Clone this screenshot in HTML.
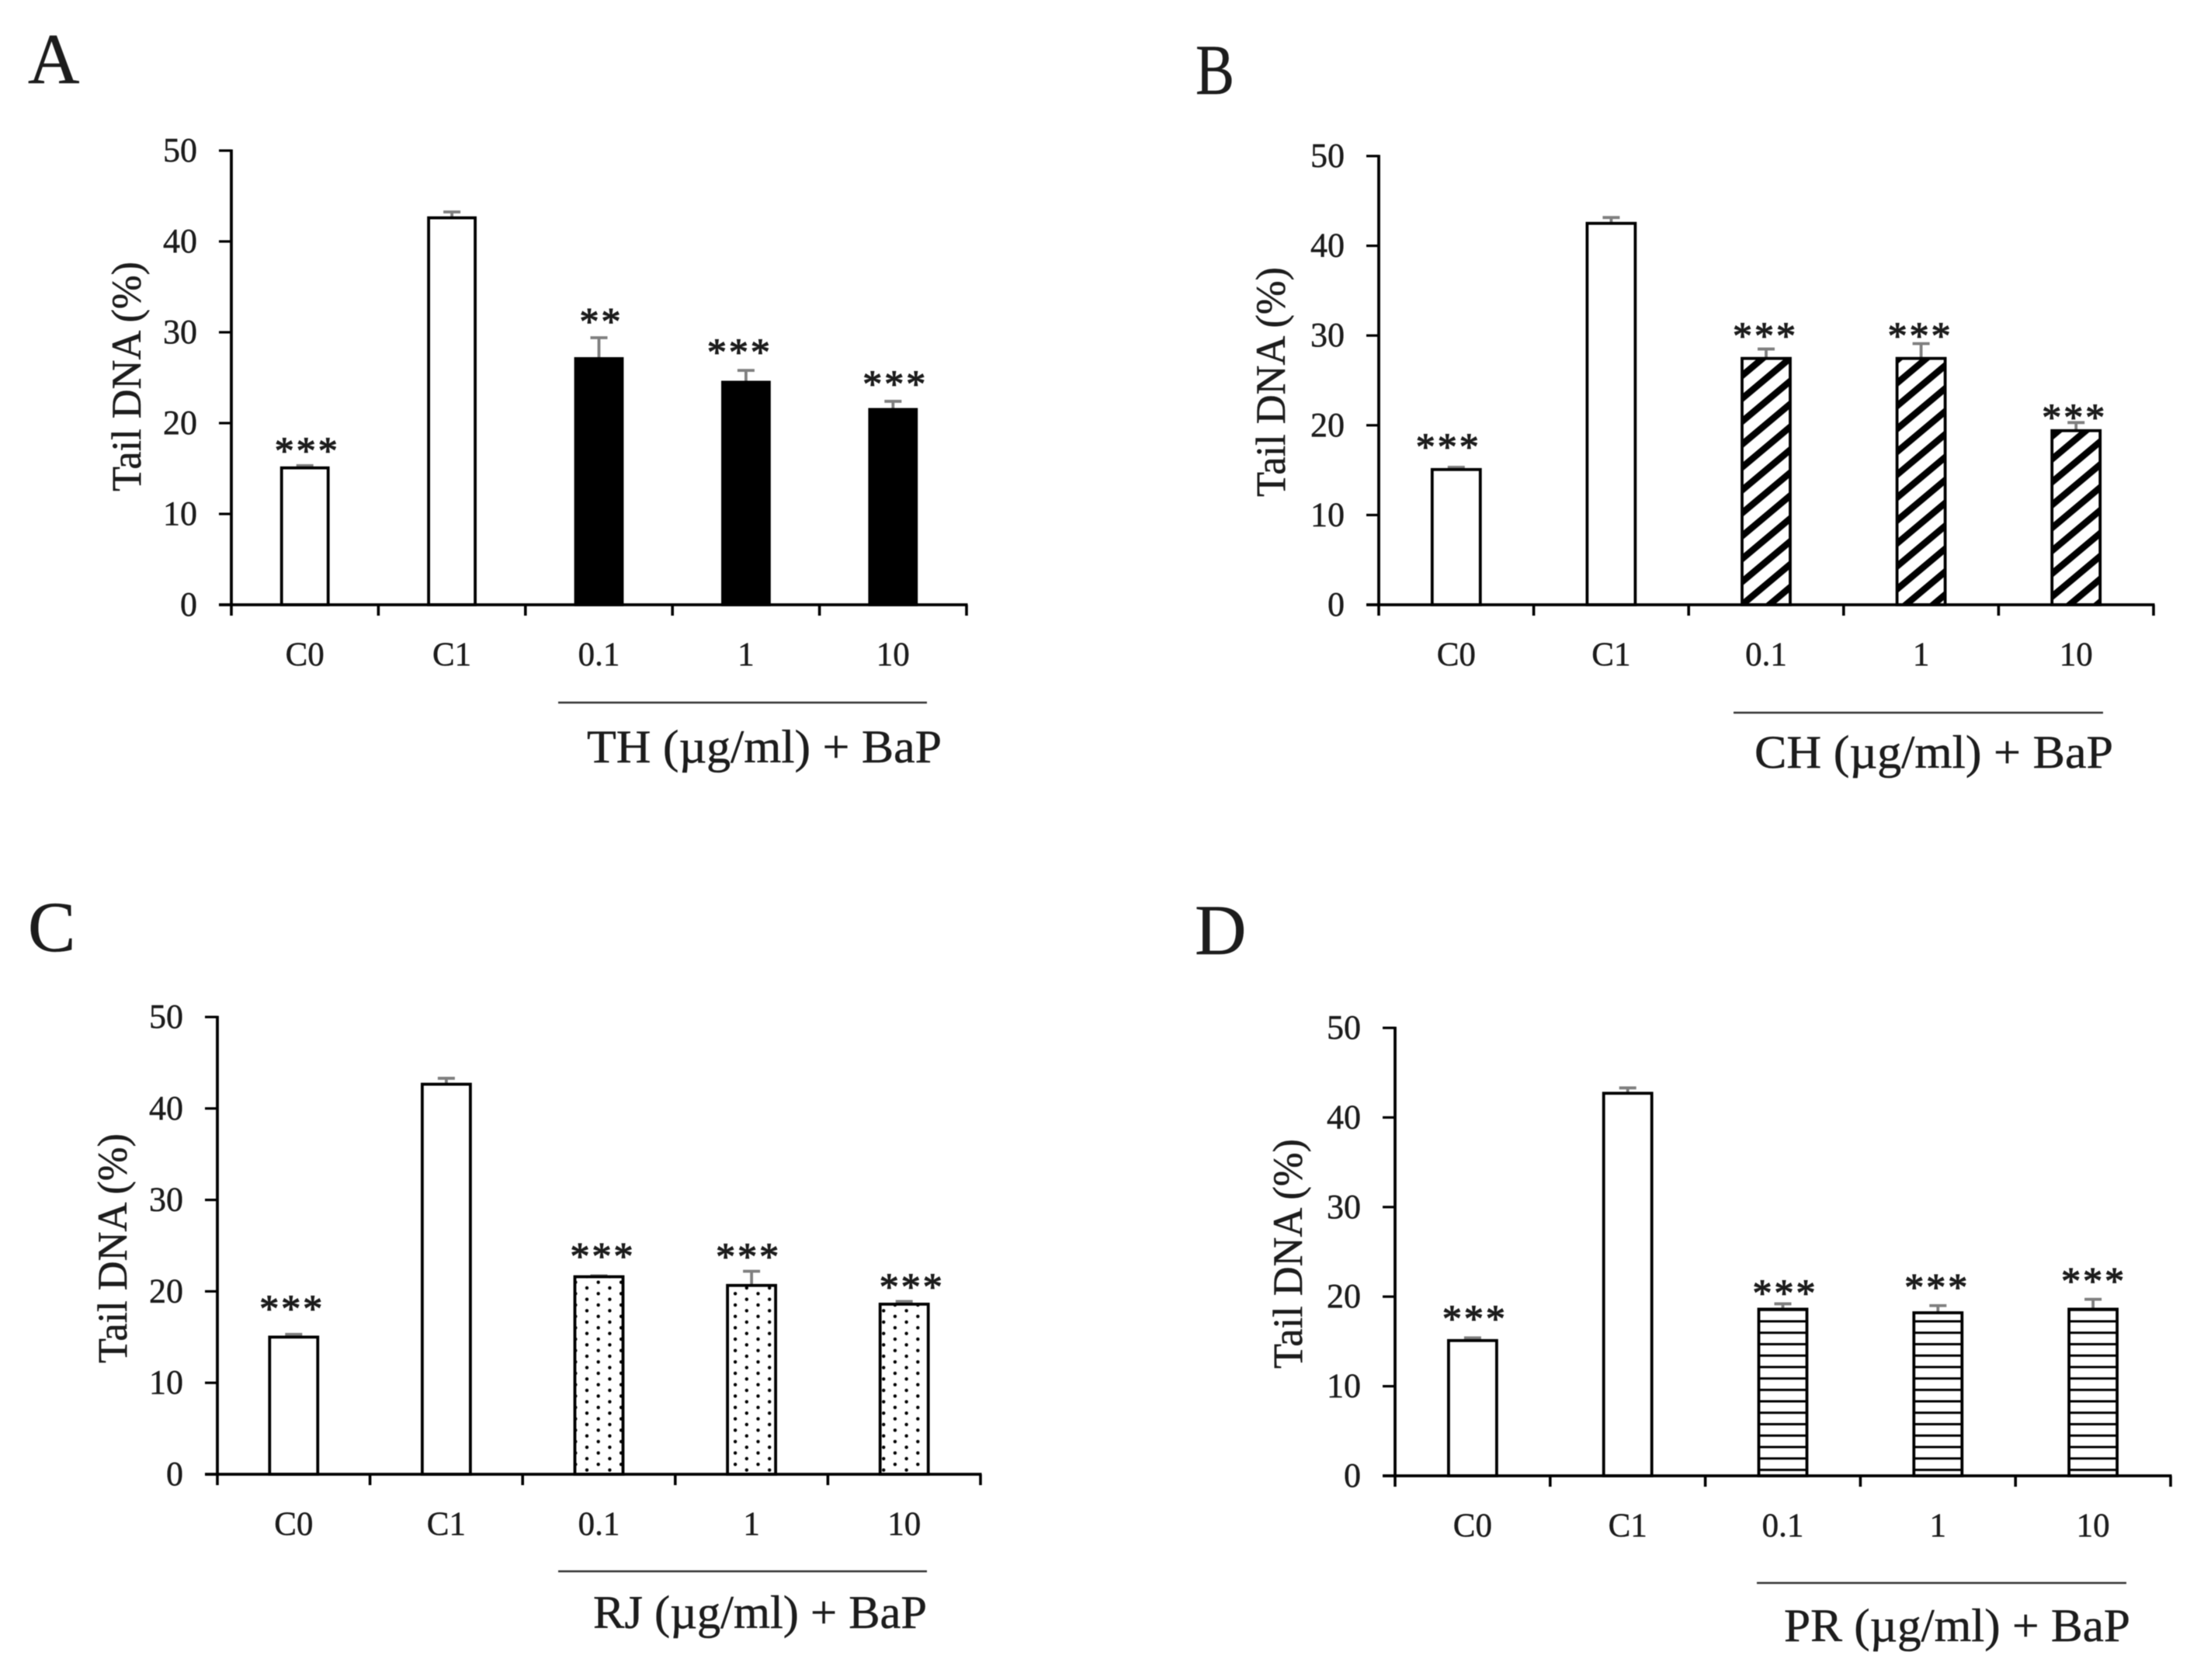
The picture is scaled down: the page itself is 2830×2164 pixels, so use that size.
<!DOCTYPE html>
<html lang="en">
<head>
<meta charset="utf-8">
<title>Tail DNA bar charts</title>
<style>
html,body{margin:0;padding:0;background:#fff;width:2830px;height:2164px;overflow:hidden}
svg{display:block;filter:blur(0.6px)}
text{font-family:"Liberation Serif",serif;fill:#1c1c1c;stroke:#1c1c1c;stroke-width:0.5px}
</style>
</head>
<body>
<svg id="figure" xmlns="http://www.w3.org/2000/svg" width="2830" height="2164" viewBox="0 0 2830 2164">
<defs>
<pattern id="hatch-diagonal" patternUnits="userSpaceOnUse" width="10" height="22.6" patternTransform="translate(2261.7 434) rotate(-40)">
<rect width="10" height="22.6" fill="#fff"/>
<rect width="10" height="8.5" y="0" fill="#000"/>
</pattern>
<pattern id="hatch-dots" patternUnits="userSpaceOnUse" x="748.65" y="1655.34" width="29.4" height="14.66">
<rect width="29.4" height="14.66" fill="#fff"/>
<circle cx="7.35" cy="3.66" r="2.2" fill="#000"/>
<circle cx="22.05" cy="11" r="2.2" fill="#000"/>
</pattern>
<pattern id="hatch-lines" patternUnits="userSpaceOnUse" x="0" y="1700.5" width="10" height="14.72">
<rect width="10" height="14.72" fill="#fff"/>
<rect width="10" height="3" y="0" fill="#000"/>
</pattern>
</defs>
</svg>
<script>
// ---- chart data (percent Tail DNA) ----
const categories = ["C0", "C1", "0.1", "1", "10"];
const yTickValues = [0, 10, 20, 30, 40, 50];

const valuesA = [15.07, 42.6, 27.1, 24.5, 21.5];
const errorsA = [0.25, 0.65, 2.3, 1.3, 0.9];
const starsA = ["***", "", "**", "***", "***"];
const starGapsA = [2.25, 0, 2.4, 2.6, 2.5];

const valuesB = [15.07, 42.5, 27.45, 27.45, 19.4];
const errorsB = [0.25, 0.65, 1.05, 1.65, 0.9];
const starsB = ["***", "", "***", "***", "***"];
const starGapsB = [2.9, 0, 2.1, 1.5, 1.2];

const valuesC = [15.0, 42.65, 21.6, 20.65, 18.6];
const errorsC = [0.3, 0.65, 0.1, 1.55, 0.3];
const starsC = ["***", "", "***", "***", "***"];
const starGapsC = [3.4, 0, 2.75, 2.2, 2.2];

const valuesD = [15.1, 42.7, 18.6, 18.2, 18.6];
const errorsD = [0.3, 0.6, 0.6, 0.8, 1.1];
const starsD = ["***", "", "***", "***", "***"];
const starGapsD = [2.75, 0, 1.8, 2.65, 2.65];

const yMax = 50;

// ---- panel layouts ----
const panels = [
  {id:"a", letter:"A", letterX:36, letterY:107,
   x0:298, x1:1245, y50:194, y0:779, barW:60, starDx:[3,3,3,-8,3],
   titleX:181, titleY:485,
   ruleX0:719, ruleX1:1194, ruleY:905,
   caption:"TH (µg/ml) + BaP", capX:756, capW:457, capY:982,
   fills:["#fff","#fff","#000","#000","#000"],
   values:valuesA, errors:errorsA, stars:starsA, gaps:starGapsA},
  {id:"b", letter:"B", letterX:1540, letterY:121, letterW:50,
   x0:1776, x1:2774, y50:201, y0:779, barW:62, starDx:[-10,3,-1,-1,-2],
   titleX:1655, titleY:492,
   ruleX0:2233, ruleX1:2709, ruleY:918,
   caption:"CH (µg/ml) + BaP", capX:2260, capW:462, capY:989,
   fills:["#fff","#fff","url(#hatch-diagonal)","url(#hatch-diagonal)","url(#hatch-diagonal)"],
   values:valuesB, errors:errorsB, stars:starsB, gaps:starGapsB},
  {id:"c", letter:"C", letterX:36, letterY:1225,
   x0:280, x1:1263, y50:1310, y0:1899, barW:62, starDx:[-2,3,5,-4,10],
   titleX:163, titleY:1608,
   ruleX0:719, ruleX1:1194, ruleY:2024,
   caption:"RJ (µg/ml) + BaP", capX:764, capW:430, capY:2097,
   fills:["#fff","#fff","url(#hatch-dots)","url(#hatch-dots)","url(#hatch-dots)"],
   values:valuesC, errors:errorsC, stars:starsC, gaps:starGapsC},
  {id:"d", letter:"D", letterX:1539, letterY:1229,
   x0:1797, x1:2796, y50:1324, y0:1901, barW:62, starDx:[3,3,3,-1,1],
   titleX:1677, titleY:1615,
   ruleX0:2263, ruleX1:2739, ruleY:2039,
   caption:"PR (µg/ml) + BaP", capX:2298, capW:446, capY:2114,
   fills:["#fff","#fff","url(#hatch-lines)","url(#hatch-lines)","url(#hatch-lines)"],
   values:valuesD, errors:errorsD, stars:starsD, gaps:starGapsD}
];

const NS = "http://www.w3.org/2000/svg";
const svg = document.getElementById("figure");

function mk(parent, tag, attrs, txt) {
  const el = document.createElementNS(NS, tag);
  for (const k in attrs) el.setAttribute(k, attrs[k]);
  if (txt !== undefined) el.textContent = txt;
  parent.appendChild(el);
  return el;
}

panels.forEach(function (p) {
  const scaleY = function (v) { return p.y0 - (v / yMax) * (p.y0 - p.y50); };
  const band = (p.x1 - p.x0) / categories.length;
  const scaleX = function (i) { return p.x0 + band * (i + 0.5); };

  const g = mk(svg, "g", {});
  
  

  const letterAttrs = {x:p.letterX, y:p.letterY, "font-size":92};
  if (p.letterW) { letterAttrs.textLength = p.letterW; letterAttrs.lengthAdjust = "spacingAndGlyphs"; }
  const letter = mk(g, "text", letterAttrs, p.letter);
  
  

  const title = mk(g, "text", {
    transform:"translate(" + p.titleX + " " + p.titleY + ") rotate(-90)",
    x:0, y:0, "text-anchor":"middle", "font-size":54,
    textLength:296, lengthAdjust:"spacingAndGlyphs"
  }, "Tail DNA (%)");
  
  

  // bars, error bars, significance markers
  categories.forEach(function (cat, i) {
    const cx = scaleX(i);
    const v = p.values[i];
    const top = scaleY(v);
    const errTop = scaleY(v + p.errors[i]);

    const stem = mk(g, "line", {x1:cx, x2:cx, y1:top, y2:errTop, stroke:"#7f7f7f", "stroke-width":3.8});
    
    

    const cap = mk(g, "line", {x1:cx - 11, x2:cx + 11, y1:errTop, y2:errTop, stroke:"#7f7f7f", "stroke-width":3.8});
    
    

    const bar = mk(g, "rect", {
      x:cx - p.barW / 2, y:top, width:p.barW, height:p.y0 - top,
      fill:p.fills[i], stroke:"#000", "stroke-width":3.8
    });
    
    

    if (p.stars[i]) {
      const starCenter = scaleY(v + p.errors[i] + p.gaps[i]);
      const star = mk(g, "text", {
        x:cx + p.starDx[i], y:starCenter + 23.5, "text-anchor":"middle",
        "font-size":50, "letter-spacing":3,
        style:"stroke-width:1.2px"
      }, p.stars[i]);
      
      
    }

    const lab = mk(g, "text", {x:cx, y:p.y0 + 78, "text-anchor":"middle", "font-size":43}, cat);
    
    
  });

  // axes
  const yAxis = mk(g, "line", {x1:p.x0, x2:p.x0, y1:p.y50 - 1.5, y2:p.y0 + 1.5, stroke:"#000", "stroke-width":3.8});
  
  

  const xAxis = mk(g, "line", {x1:p.x0 - 16, x2:p.x1 + 1.5, y1:p.y0, y2:p.y0, stroke:"#000", "stroke-width":3.8});
  
  

  yTickValues.forEach(function (t) {
    const y = scaleY(t);
    const tick = mk(g, "line", {x1:p.x0 - 16, x2:p.x0, y1:y, y2:y, stroke:"#000", "stroke-width":3.2});
    
    
    const lab = mk(g, "text", {x:p.x0 - 44, y:y + 14, "text-anchor":"end", "font-size":44}, String(t));
    
    
  });

  for (let i = 0; i <= categories.length; i++) {
    const x = p.x0 + band * i;
    const tick = mk(g, "line", {x1:x, x2:x, y1:p.y0, y2:p.y0 + 14, stroke:"#000", "stroke-width":3.6});
    
    
  }

  const rule = mk(g, "line", {x1:p.ruleX0, x2:p.ruleX1, y1:p.ruleY, y2:p.ruleY, stroke:"#333", "stroke-width":2.4});
  
  

  const cap = mk(g, "text", {
    x:p.capX, y:p.capY, "font-size":60,
    textLength:p.capW, lengthAdjust:"spacingAndGlyphs"
  }, p.caption);
  
  
});
</script>
</body>
</html>
